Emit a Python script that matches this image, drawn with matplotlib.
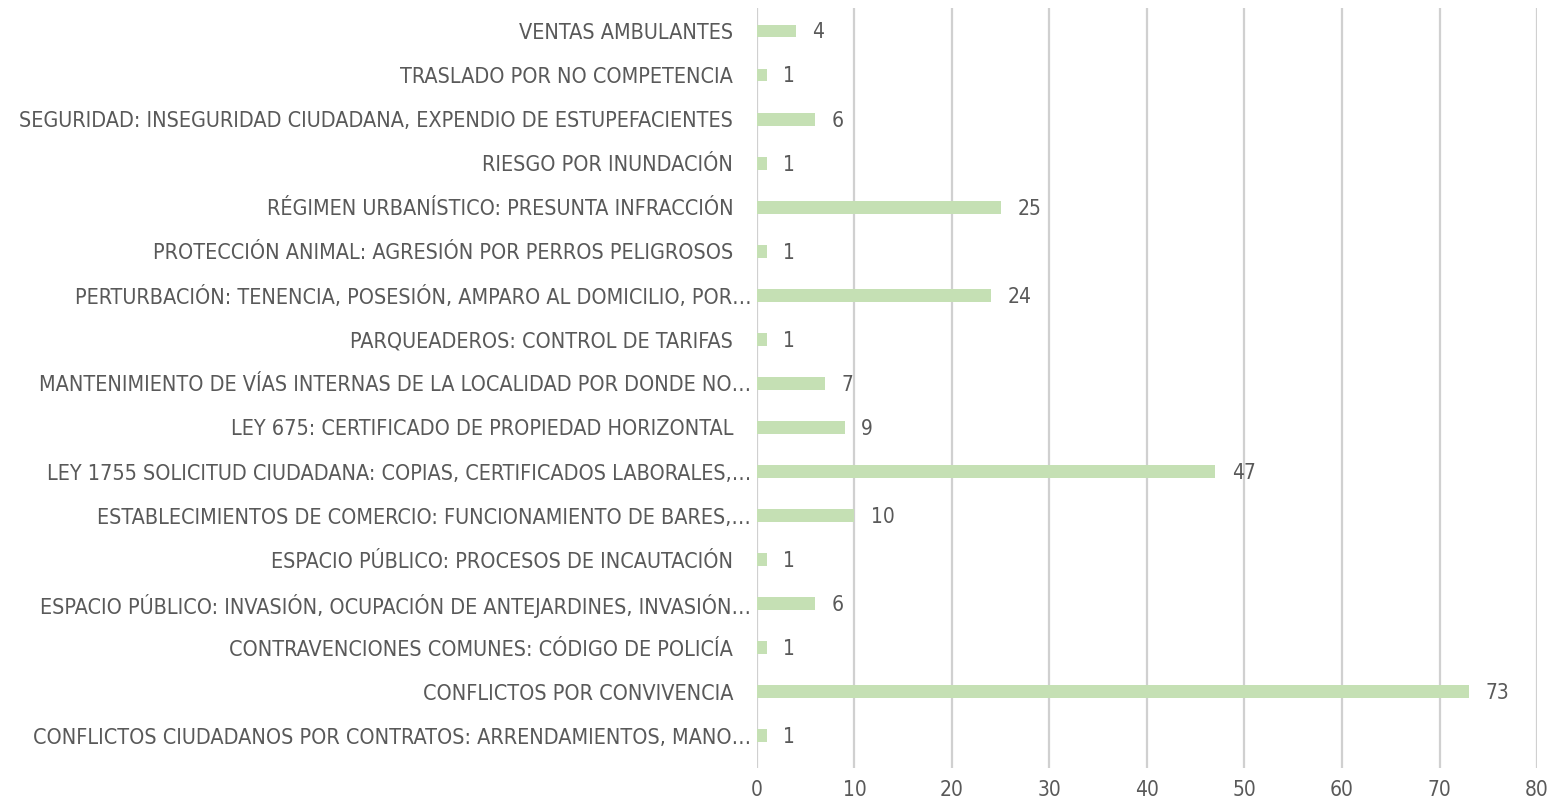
import matplotlib.pyplot as plt

# categories listed bottom to top, as drawn
categorias = [
    "CONFLICTOS CIUDADANOS POR CONTRATOS: ARRENDAMIENTOS, MANO…",
    "CONFLICTOS POR CONVIVENCIA",
    "CONTRAVENCIONES COMUNES: CÓDIGO DE POLICÍA",
    "ESPACIO PÚBLICO: INVASIÓN, OCUPACIÓN DE ANTEJARDINES, INVASIÓN…",
    "ESPACIO PÚBLICO: PROCESOS DE INCAUTACIÓN",
    "ESTABLECIMIENTOS DE COMERCIO: FUNCIONAMIENTO DE BARES,…",
    "LEY 1755 SOLICITUD CIUDADANA: COPIAS, CERTIFICADOS LABORALES,…",
    "LEY 675: CERTIFICADO DE PROPIEDAD HORIZONTAL",
    "MANTENIMIENTO DE VÍAS INTERNAS DE LA LOCALIDAD POR DONDE NO…",
    "PARQUEADEROS: CONTROL DE TARIFAS",
    "PERTURBACIÓN: TENENCIA, POSESIÓN, AMPARO AL DOMICILIO, POR…",
    "PROTECCIÓN ANIMAL: AGRESIÓN POR PERROS PELIGROSOS",
    "RÉGIMEN URBANÍSTICO: PRESUNTA INFRACCIÓN",
    "RIESGO POR INUNDACIÓN",
    "SEGURIDAD: INSEGURIDAD CIUDADANA, EXPENDIO DE ESTUPEFACIENTES",
    "TRASLADO POR NO COMPETENCIA",
    "VENTAS AMBULANTES",
]
valores = [1, 73, 1, 6, 1, 10, 47, 9, 7, 1, 24, 1, 25, 1, 6, 1, 4]

gris = "#595959"
plt.rcParams['font.family'] = ['DejaVu Sans']
plt.rcParams['font.stretch'] = 'condensed'

fig = plt.figure(figsize=(15.51, 7.99), dpi=100)
ax = fig.add_axes([0.488, 0.0388, 0.503, 0.951])

y = range(len(categorias))
ax.barh(y, valores, height=0.29, color="#C5E0B4", zorder=3)

for yi, v in zip(y, valores):
    ax.annotate(str(v), (v, yi), xytext=(12, -1), textcoords="offset points",
                ha="left", va="center", fontsize=15, color=gris)

ax.set_xlim(0, 80)
ax.set_ylim(-0.73, len(categorias) - 0.48)
ax.set_xticks(range(0, 81, 10))
ax.set_yticks(list(y))
ax.set_yticklabels(categorias, fontsize=15.5, color=gris)
ax.tick_params(axis="x", length=0, labelsize=15, labelcolor=gris, pad=9)
ax.tick_params(axis="y", length=0)
for tick, lab in zip(ax.yaxis.get_major_ticks(), categorias):
    tick.set_pad(4 if lab.endswith("…") else 17)

ax.grid(axis="x", color="#D0D0D0", linewidth=1.6, zorder=0)
for s in ax.spines.values():
    s.set_visible(False)

fig.savefig("out.png", dpi=100)
